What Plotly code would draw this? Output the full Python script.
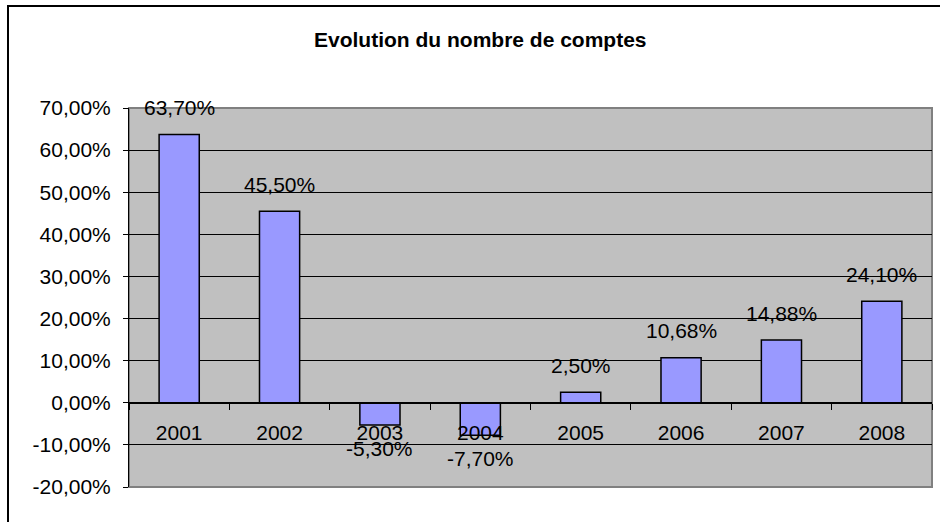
import plotly.graph_objects as go

years = ["2001", "2002", "2003", "2004", "2005", "2006", "2007", "2008"]
growth_pct = [63.70, 45.50, -5.30, -7.70, 2.50, 10.68, 14.88, 24.10]
y_ticks = [-20, -10, 0, 10, 20, 30, 40, 50, 60, 70]
title_text = "Evolution du nombre de comptes"


def fr_pct(v):
    return f"{v:.2f}%".replace(".", ",")


FONT = "Liberation Sans, Arial, sans-serif"
W, H = 940, 522
L, R, T, B = 129, 8, 108, 35
PW, PH = W - L - R, H - T - B

fig = go.Figure()
fig.add_trace(go.Bar(
    x=years, y=growth_pct,
    marker=dict(color="#9999FF", line=dict(color="black", width=1.5)),
    hoverinfo="skip",
))

annotations = []
for i, v in enumerate(growth_pct):
    annotations.append(dict(
        x=i, y=v, xref="x", yref="y", text=fr_pct(v), showarrow=False,
        yshift=27 if v >= 0 else -23,
        font=dict(family=FONT, size=21, color="black"),
    ))

# title
annotations.append(dict(
    x=(480 - L) / PW, y=1 + (T - 40) / PH, xref="paper", yref="paper",
    text="<b>" + title_text + "</b>", showarrow=False,
    xanchor="center", yanchor="middle",
    font=dict(family=FONT, size=21, color="black"),
))

ymin, ymax = y_ticks[0], y_ticks[-1]

fig.update_layout(
    width=W, height=H,
    margin=dict(l=L, r=R, t=T, b=B, pad=0),
    paper_bgcolor="white",
    plot_bgcolor="#C0C0C0",
    showlegend=False,
    bargap=0.6,
    annotations=annotations,
    shapes=[
        dict(type="rect", xref="paper", yref="paper", x0=0, x1=1, y0=0, y1=1,
             line=dict(color="#808080", width=2), layer="below"),
        dict(type="rect", xref="paper", yref="paper",
             x0=(8 - L) / PW, x1=1.3, y0=-0.5, y1=1 + (T - 6) / PH,
             line=dict(color="black", width=2), layer="below"),
    ],
    xaxis=dict(
        type="category",
        range=[-0.5, len(years) - 0.5],
        autorange=False,
        automargin=False,
        anchor="free",
        position=(0 - ymin) / (ymax - ymin),
        showline=True, linecolor="black", linewidth=1,
        ticks="outside", tickson="boundaries", ticklen=6, tickcolor="black", tickwidth=1,
        showgrid=False, zeroline=False,
        tickangle=0,
        ticklabelstandoff=11,
        tickfont=dict(family=FONT, size=21, color="black"),
    ),
    yaxis=dict(
        range=[ymin, ymax],
        autorange=False,
        automargin=False,
        tickvals=y_ticks,
        ticktext=[fr_pct(v) for v in y_ticks],
        showline=True, linecolor="black", linewidth=1,
        ticks="outside", ticklen=5, tickcolor="black",
        showgrid=True, gridcolor="black", gridwidth=1,
        zeroline=True, zerolinecolor="black", zerolinewidth=1,
        ticklabelstandoff=8,
        tickfont=dict(family=FONT, size=21, color="black"),
    ),
)

fig.write_html(
    "out.html",
    config={"displayModeBar": False},
    post_script="document.body.style.margin='0';document.body.style.overflow='hidden';",
)
